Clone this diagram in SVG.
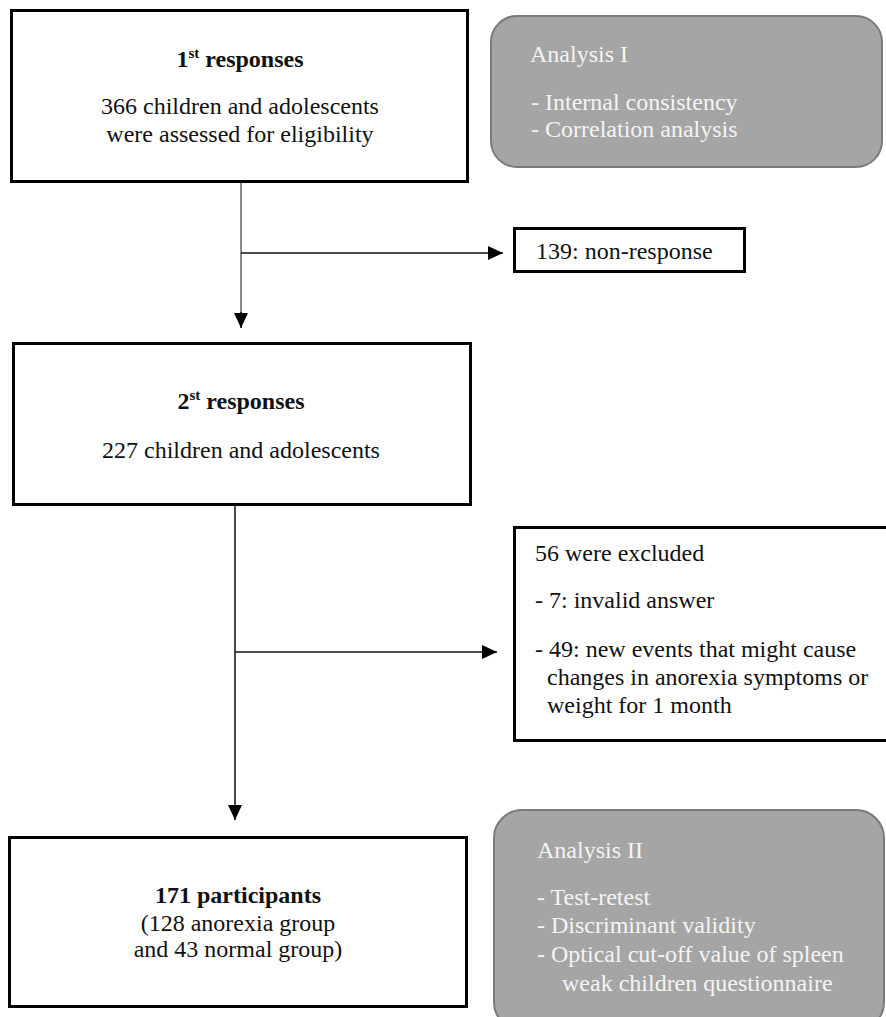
<svg xmlns="http://www.w3.org/2000/svg" width="886" height="1017" viewBox="0 0 886 1017" font-family="'Liberation Serif', 'DejaVu Serif', serif">
<style>
text{font-family:'Liberation Serif','DejaVu Serif',serif;font-size:24px;fill:#111;stroke:none;font-weight:400}
.b{font-weight:700}
.c{text-anchor:middle}
.sup{font-size:15px}
.box{fill:#fff;stroke:#000;stroke-width:3}
.ana rect{fill:#a5a5a5;stroke:#7a7a7a;stroke-width:2}
.ana text{fill:#f4f4f4}
.ln{stroke:#111;stroke-width:1.5;fill:none}
.gl{stroke:#8a8a8a;stroke-width:2;fill:none}
</style>
<defs>
<marker id="arr" markerUnits="userSpaceOnUse" viewBox="0 0 15 14" refX="15" refY="7" markerWidth="15" markerHeight="14" orient="auto">
<path d="M0,0 L15,7 L0,14 z" fill="#000"/>
</marker>
</defs>
<rect width="886" height="1017" fill="#fff"/>
<g id="connectors">
<path class="gl" d="M241,183 V314"/>
<path class="ln" d="M241,312 V328" marker-end="url(#arr)"/>
<path class="ln" d="M241,253 H503" marker-end="url(#arr)"/>
<path class="ln" d="M235,506 V820" marker-end="url(#arr)"/>
<path class="ln" d="M235,652 H497" marker-end="url(#arr)"/>
</g>
<g id="box1">
<rect class="box" x="11.5" y="10.5" width="456" height="171"/>
<text class="c b" x="240" y="67">1<tspan class="sup" dy="-9">st</tspan><tspan dy="9"> responses</tspan></text>
<text class="c" x="240" y="114">366 children and adolescents</text>
<text class="c" x="240" y="142">were assessed for eligibility</text>
</g>
<g id="analysis1" class="ana">
<rect x="491" y="16" width="391" height="151" rx="26"/>
<text x="530" y="62">Analysis I</text>
<text x="531" y="110">- Internal consistency</text>
<text x="531" y="137">- Correlation analysis</text>
</g>
<g id="nonresponse">
<rect class="box" x="514.5" y="228.5" width="230" height="43"/>
<text x="536" y="259">139: non-response</text>
</g>
<g id="box2">
<rect class="box" x="13.5" y="343.5" width="457" height="161"/>
<text class="c b" x="241" y="409">2<tspan class="sup" dy="-9">st</tspan><tspan dy="9"> responses</tspan></text>
<text class="c" x="241" y="458">227 children and adolescents</text>
</g>
<g id="excluded">
<rect class="box" x="514.5" y="527.5" width="400" height="213"/>
<text x="535" y="561">56 were excluded</text>
<text x="535" y="608">- 7: invalid answer</text>
<text x="535" y="657">- 49: new events that might cause</text>
<text x="547" y="685">changes in anorexia symptoms or</text>
<text x="547" y="713">weight for 1 month</text>
</g>
<g id="box3">
<rect class="box" x="9.5" y="837.5" width="457" height="169"/>
<text class="c b" x="238" y="903">171 participants</text>
<text class="c" x="238" y="931">(128 anorexia group</text>
<text class="c" x="238" y="957">and 43 normal group)</text>
</g>
<g id="analysis2" class="ana">
<rect x="494" y="810" width="390" height="220" rx="28"/>
<text x="537" y="858">Analysis II</text>
<text x="537" y="905">- Test-retest</text>
<text x="537" y="933">- Discriminant validity</text>
<text x="537" y="962">- Optical cut-off value of spleen</text>
<text x="562" y="991">weak children questionnaire</text>
</g>
</svg>
